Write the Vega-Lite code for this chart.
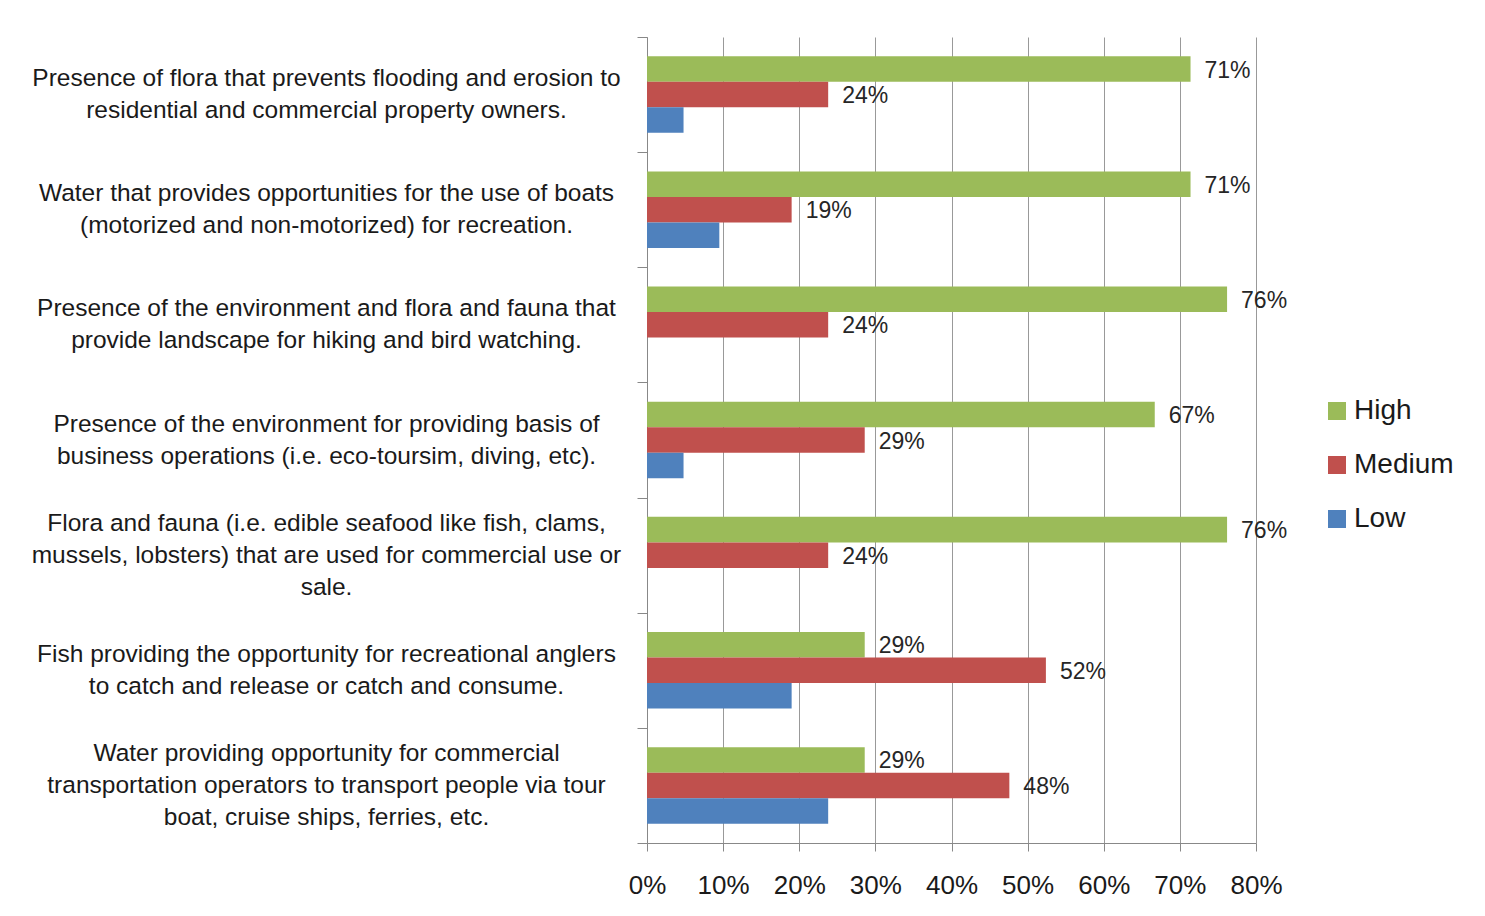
{
  "$schema": "https://vega.github.io/schema/vega-lite/v6.json",
  "width": 609,
  "height": 806,
  "autosize": {"type": "none"},
  "padding": {"left": 647, "top": 37, "right": 229, "bottom": 73},
  "background": "white",
  "config": {"view": {"stroke": null}, "font": "Liberation Sans"},
  "data": {"values": [
    {"cat": "Presence of flora that prevents flooding and erosion to|residential and commercial property owners.", "level": "High", "value": 0.714},
    {"cat": "Presence of flora that prevents flooding and erosion to|residential and commercial property owners.", "level": "Medium", "value": 0.238},
    {"cat": "Presence of flora that prevents flooding and erosion to|residential and commercial property owners.", "level": "Low", "value": 0.048},
    {"cat": "Water that provides opportunities for the use of boats|(motorized and non-motorized) for recreation.", "level": "High", "value": 0.714},
    {"cat": "Water that provides opportunities for the use of boats|(motorized and non-motorized) for recreation.", "level": "Medium", "value": 0.190},
    {"cat": "Water that provides opportunities for the use of boats|(motorized and non-motorized) for recreation.", "level": "Low", "value": 0.095},
    {"cat": "Presence of the environment and flora and fauna that|provide landscape for hiking and bird watching.", "level": "High", "value": 0.762},
    {"cat": "Presence of the environment and flora and fauna that|provide landscape for hiking and bird watching.", "level": "Medium", "value": 0.238},
    {"cat": "Presence of the environment for providing basis of|business operations (i.e. eco-toursim, diving, etc).", "level": "High", "value": 0.667},
    {"cat": "Presence of the environment for providing basis of|business operations (i.e. eco-toursim, diving, etc).", "level": "Medium", "value": 0.286},
    {"cat": "Presence of the environment for providing basis of|business operations (i.e. eco-toursim, diving, etc).", "level": "Low", "value": 0.048},
    {"cat": "Flora and fauna (i.e. edible seafood like fish, clams,|mussels, lobsters) that are used for commercial use or|sale.", "level": "High", "value": 0.762},
    {"cat": "Flora and fauna (i.e. edible seafood like fish, clams,|mussels, lobsters) that are used for commercial use or|sale.", "level": "Medium", "value": 0.238},
    {"cat": "Fish providing the opportunity for recreational anglers|to catch and release or catch and consume.", "level": "High", "value": 0.286},
    {"cat": "Fish providing the opportunity for recreational anglers|to catch and release or catch and consume.", "level": "Medium", "value": 0.524},
    {"cat": "Fish providing the opportunity for recreational anglers|to catch and release or catch and consume.", "level": "Low", "value": 0.190},
    {"cat": "Water providing opportunity for commercial|transportation operators to transport people via tour|boat, cruise ships, ferries, etc.", "level": "High", "value": 0.286},
    {"cat": "Water providing opportunity for commercial|transportation operators to transport people via tour|boat, cruise ships, ferries, etc.", "level": "Medium", "value": 0.476},
    {"cat": "Water providing opportunity for commercial|transportation operators to transport people via tour|boat, cruise ships, ferries, etc.", "level": "Low", "value": 0.238}
  ]},
  "encoding": {
    "y": {
      "field": "cat", "type": "nominal", "sort": null,
      "scale": {"paddingInner": 0, "paddingOuter": 0},
      "axis": {
        "title": null, "grid": false,
        "domainColor": "#888888", "tickColor": "#888888", "tickSize": 10, "tickBand": "extent",
        "labelExpr": "split(datum.label, '|')",
        "labelAlign": "center", "labelBaseline": "middle", "labelPadding": 311,
        "labelOffset": {"condition": {"test": "length(split(datum.value, '|')) > 2", "value": -32}, "value": -16},
        "labelFontSize": 24.5, "labelLineHeight": 32, "labelLimit": 800, "labelColor": "#1a1a1a"
      }
    },
    "yOffset": {
      "field": "level", "type": "nominal", "sort": ["High", "Medium", "Low"],
      "scale": {"domain": ["High", "Medium", "Low"], "paddingInner": 0, "paddingOuter": 0.755}
    },
    "x": {
      "field": "value", "type": "quantitative",
      "scale": {"domain": [0, 0.8], "nice": false},
      "axis": {
        "title": null, "format": ".0%", "values": [0, 0.1, 0.2, 0.3, 0.4, 0.5, 0.6, 0.7, 0.8],
        "grid": true, "gridColor": "#999999", "domainColor": "#888888", "tickColor": "#888888",
        "tickSize": 8, "labelFontSize": 26, "labelPadding": 21, "labelColor": "#1a1a1a",
        "labelOverlap": false, "labelFlush": false
      }
    }
  },
  "layer": [
    {
      "mark": {"type": "bar"},
      "encoding": {
        "color": {
          "field": "level", "type": "nominal",
          "scale": {"domain": ["High", "Medium", "Low"], "range": ["#9BBB59", "#C0504D", "#4F81BD"]},
          "legend": {
            "title": null, "orient": "none", "legendX": 676, "legendY": 360, "padding": 0,
            "symbolType": "square", "symbolSize": 324, "symbolStrokeWidth": 0,
            "labelFontSize": 28, "labelOffset": 3, "rowPadding": 26, "labelColor": "#1a1a1a"
          }
        }
      }
    },
    {
      "transform": [{"filter": "datum.level != 'Low'"}],
      "mark": {"type": "text", "align": "left", "baseline": "middle", "dx": 14, "dy": 1.5, "fontSize": 23, "color": "#262626"},
      "encoding": {"text": {"field": "value", "type": "quantitative", "format": ".0%"}}
    }
  ]
}
